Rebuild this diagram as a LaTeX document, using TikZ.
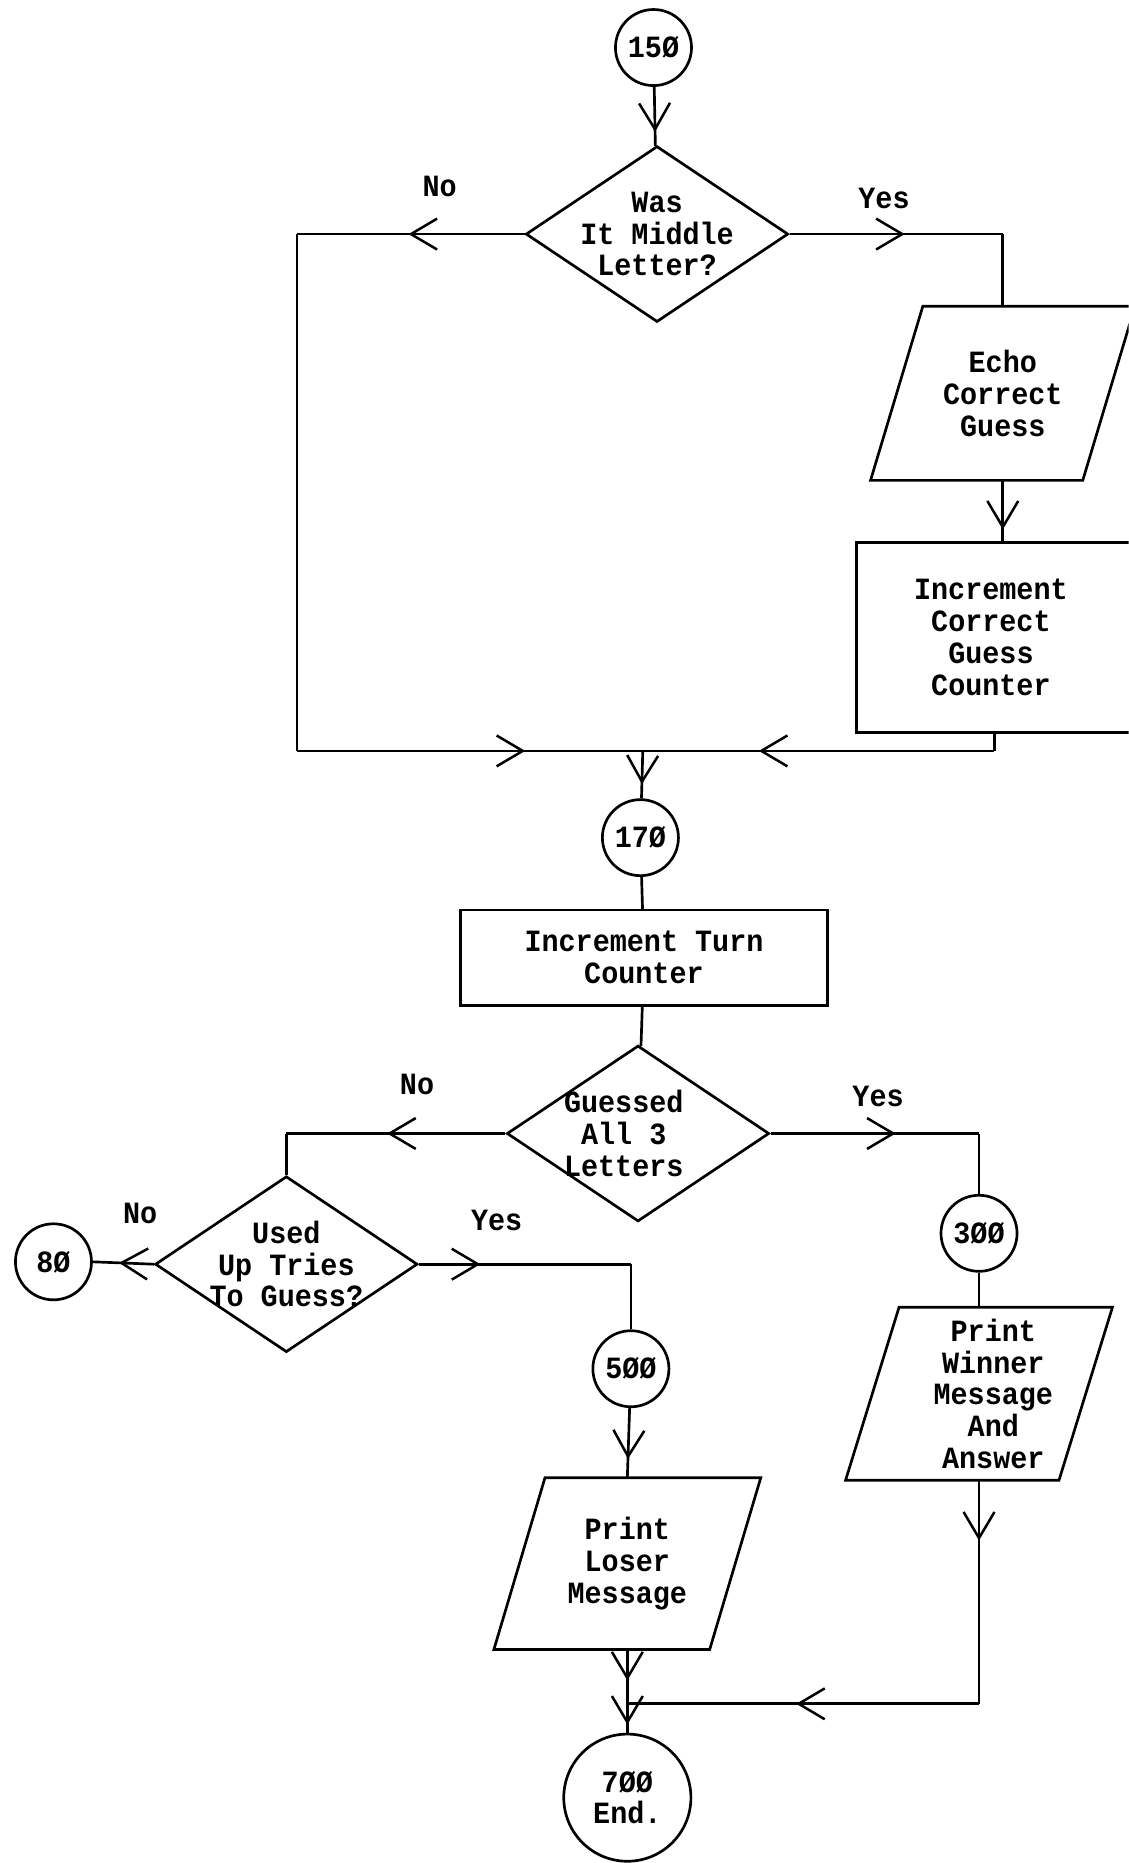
\documentclass[tikz,border=0pt]{standalone}
\usepackage{fontspec}
\newfontfamily\tw{Liberation Mono}[FakeStretch=0.92]
\usetikzlibrary{shapes.geometric,arrows.meta,decorations.markings,calc}
\tikzset{
  ln/.style={line width=1.6pt},
  tx/.style={font=\tw\bfseries\fontsize{18.5}{19}\selectfont, align=center},
  conn/.style={circle, draw, line width=1.6pt, minimum size=1.6cm, inner sep=0pt, tx},
  dia/.style={diamond, draw, line width=1.6pt, minimum width=5.52cm, minimum height=3.7cm, inner sep=0pt},
  box/.style={rectangle, draw=none, inner sep=0pt, tx},
  lbl/.style={tx},
  midarr/.style={postaction={decorate, decoration={markings, mark=at position #1 with {\arrow[line width=1.5pt]{Straight Barb[length=0.55cm,width=0.65cm]}}}}},
}
\begin{document}
\begin{tikzpicture}[x=0.025cm, y=-0.025cm]
\useasboundingbox (0,0) rectangle (950,1568);
\clip (0,0) rectangle (950,1568);

% ---- nodes ----
\node[conn] (c150) at (550,40) {15Ø};
\node[dia, label={[tx]center:{Was\\It Middle\\Letter?}}] (d1) at (553,197) {};
\node[lbl] (no1) at (370,157) {No};
\node[lbl] (yes1) at (744,167) {Yes};

\node[box, minimum width=5.55cm, minimum height=3.65cm] (p1) at (844,331) {Echo\\Correct\\Guess};
\draw[ln] (p1.south west) -- ($(p1.north west)+(44,0)$) -- (p1.north east) -- ($(p1.south east)-(44,0)$) -- cycle;

\node[box, minimum width=5.65cm, minimum height=3.975cm] (r1) at (834,536.5) {Increment\\Correct\\Guess\\Counter};
\draw[ln] ($(r1.north west)+(300,0)$) -- (r1.north west) -- (r1.south west) -- ($(r1.south west)+(300,0)$);

\node[conn] (c170) at (539,705) {17Ø};
\node[box, draw, line width=1.6pt, minimum width=7.72cm, minimum height=2cm] (r2) at (542,806) {Increment Turn\\Counter};

\node[dia, label={[tx,xshift=-0.3cm]center:{Guessed\\All 3\\Letters}}] (d2) at (537,954) {};
\node[lbl] (no2) at (351,913) {No};
\node[lbl] (yes2) at (739,923) {Yes};

\node[dia, label={[tx]center:{Used\\Up Tries\\To Guess?}}] (d3) at (241,1064) {};
\node[lbl] (no3) at (118,1021) {No};
\node[lbl] (yes3) at (418,1027) {Yes};

\node[conn] (c80) at (45,1062) {8Ø};
\node[conn] (c300) at (824,1038) {3ØØ};
\node[conn] (c500) at (531,1152) {5ØØ};

\node[box, minimum width=5.6cm, minimum height=3.625cm, label={[tx,xshift=0.3cm]center:{Print\\Winner\\Message\\And\\Answer}}] (p2) at (824,1173) {};
\draw[ln] (p2.south west) -- ($(p2.north west)+(45,0)$) -- (p2.north east) -- ($(p2.south east)-(45,0)$) -- cycle;

\node[box, minimum width=5.6cm, minimum height=3.6cm] (p3) at (528,1316) {Print\\Loser\\Message};
\draw[ln] (p3.south west) -- ($(p3.north west)+(43,0)$) -- (p3.north east) -- ($(p3.south east)-(43,0)$) -- cycle;

\node[conn, minimum size=2.675cm] (c700) at (528,1513) {7ØØ\\End.};

% ---- helper coordinates ----
\coordinate (kn1) at (250,197);
\coordinate (kn2) at (250,632);
\coordinate (j1) at (541,632);
\coordinate (kr) at (837,632);
\coordinate (m) at (528,1434);

% ---- connectors ----
\draw[ln, midarr=0.76] (c150) -- (d1);
\draw[ln, midarr=0.51] (d1.west) -- (kn1);
\draw[ln] (kn1) -- (kn2);
\draw[ln, midarr=0.66] (kn2) -- (j1);
\draw[ln, midarr=0.54] (d1.east) -- (d1.east -| p1.north);
\draw[ln] (d1.east -| p1.north) -- (p1.north);
\draw[ln, midarr=0.79] (p1.south) -- (p1.south |- r1.north);
\draw[ln] (r1.south -| kr) -- (kr);
\draw[ln, midarr=0.67] (kr) -- (j1);
\draw[ln, midarr=0.7] (j1) -- (c170);
\draw[ln] (c170) -- (r2);
\draw[ln] (r2) -- (d2);
\draw[ln, midarr=0.54] (d2.west) -- (d2.west -| d3.north);
\draw[ln] (d2.west -| d3.north) -- (d3.north);
\draw[ln, midarr=0.6] (d2.east) -- (d2.east -| c300.north);
\draw[ln] (d2.east -| c300.north) -- (c300.north);
\draw[ln] (c300) -- (p2.north);
\draw[ln, midarr=0.57] (d3.west) -- (c80.east);
\draw[ln, midarr=0.29] (d3.east) -- (d3.east -| c500.north);
\draw[ln] (d3.east -| c500.north) -- (c500.north);
\draw[ln, midarr=0.73] (c500) -- (p3.north);
\draw[ln, midarr=0.27] (p2.south) -- (p2.south |- m);
\draw[ln, midarr=0.52] (p2.south |- m) -- (m);
\draw[ln, midarr=0.57] (p3.south) -- (m);
\draw[ln, midarr=0.72] (m) -- (c700);
\end{tikzpicture}
\end{document}
